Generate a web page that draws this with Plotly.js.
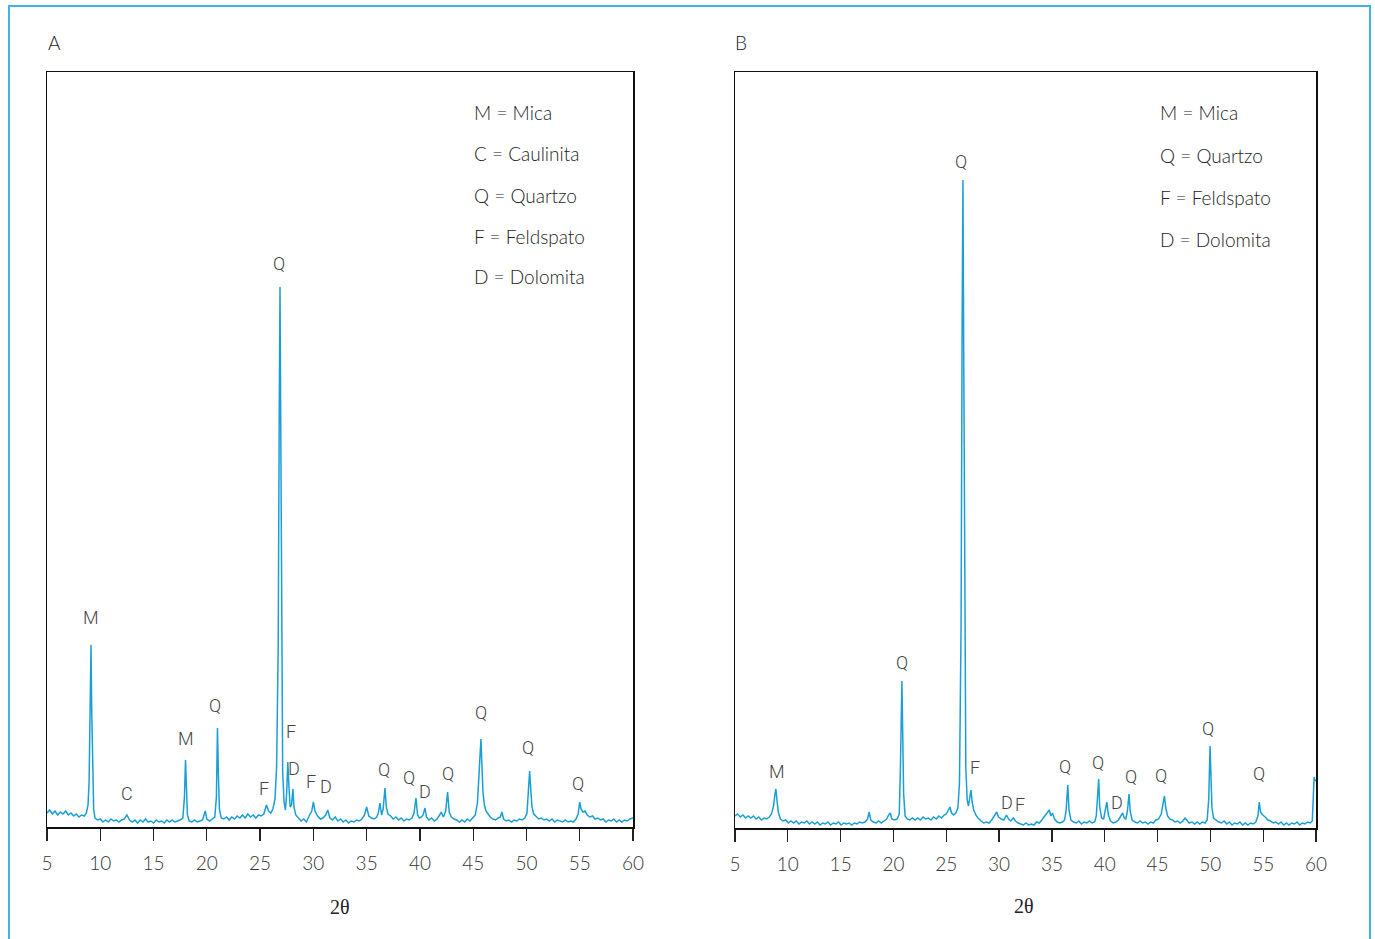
<!DOCTYPE html>
<html>
<head>
<meta charset="utf-8">
<script src="https://cdn.plot.ly/plotly-3.0.1.min.js"></script>
<style>html,body{margin:0;padding:0;background:#fff;}#chart{width:1375px;height:939px;}</style>
</head>
<body>
<div id="chart"></div>
<script>
// ---- Panel A diffractogram: [2theta, intensity (a.u.)] ----
const scanA = [
[5.00,14],[5.25,17],[5.50,13],[5.75,16],[6.00,12],[6.25,15],[6.50,13],[6.75,16],[7.00,12],[7.25,14],
[7.50,11],[7.75,13],[8.00,10],[8.25,12],[8.50,11],[8.70,14],[8.85,22],[8.95,45],[9.05,120],[9.13,182],
[9.20,115],[9.28,45],[9.38,18],[9.50,9],[9.75,7],[10.00,8],[10.25,5],[10.50,7],[10.75,5],[11.00,8],
[11.25,6],[11.50,7],[11.75,5],[12.00,7],[12.25,8],[12.50,12],[12.75,7],[13.00,5],[13.25,7],[13.50,4],
[13.75,7],[14.00,5],[14.25,8],[14.50,5],[14.75,6],[15.00,4],[15.25,7],[15.50,5],[15.75,6],[16.00,4],
[16.25,7],[16.50,5],[16.75,7],[17.00,5],[17.25,6],[17.50,7],[17.75,9],[17.90,30],[18.00,67],[18.08,40],
[18.18,12],[18.35,6],[18.60,5],[18.85,7],[19.10,5],[19.35,6],[19.60,7],[19.85,16],[20.00,8],[20.25,6],
[20.50,8],[20.75,10],[20.90,30],[21.00,99],[21.08,55],[21.18,18],[21.35,9],[21.60,8],[21.85,10],[22.10,7],
[22.35,10],[22.60,8],[22.85,11],[23.10,9],[23.35,12],[23.60,9],[23.85,13],[24.10,10],[24.35,12],[24.60,9],
[24.85,12],[25.10,11],[25.35,13],[25.60,22],[25.80,16],[26.00,14],[26.20,18],[26.40,28],[26.55,60],[26.70,180],
[26.80,420],[26.87,540],[26.94,400],[27.02,160],[27.12,55],[27.25,25],[27.38,17],[27.50,35],[27.60,65],[27.70,42],
[27.82,20],[27.95,22],[28.08,38],[28.18,20],[28.35,12],[28.60,9],[28.85,6],[29.10,8],[29.35,5],[29.60,11],
[29.85,16],[30.00,25],[30.15,16],[30.40,11],[30.65,8],[30.90,9],[31.15,12],[31.35,17],[31.55,9],[31.80,7],
[32.05,10],[32.30,6],[32.55,8],[32.80,5],[33.05,7],[33.30,4],[33.55,6],[33.80,5],[34.05,7],[34.30,6],
[34.55,8],[34.80,12],[35.00,20],[35.20,11],[35.45,9],[35.70,8],[35.95,10],[36.10,14],[36.25,24],[36.40,12],
[36.55,18],[36.72,39],[36.85,20],[37.00,13],[37.25,11],[37.50,8],[37.75,10],[38.00,7],[38.25,9],[38.50,6],
[38.75,8],[39.00,7],[39.25,9],[39.45,14],[39.63,29],[39.78,12],[39.95,9],[40.15,10],[40.30,12],[40.48,19],
[40.62,10],[40.85,7],[41.10,9],[41.35,6],[41.60,8],[41.85,12],[42.00,15],[42.20,10],[42.42,16],[42.60,35],
[42.75,15],[42.95,10],[43.20,8],[43.45,7],[43.70,5],[43.95,7],[44.20,5],[44.45,8],[44.70,6],[44.95,9],
[45.20,12],[45.40,24],[45.55,55],[45.65,78],[45.73,88],[45.82,62],[45.92,35],[46.05,22],[46.20,16],[46.40,13],
[46.60,10],[46.85,8],[47.10,7],[47.35,9],[47.55,10],[47.70,15],[47.85,8],[48.10,6],[48.35,7],[48.60,5],
[48.85,7],[49.10,6],[49.35,8],[49.60,7],[49.85,9],[50.05,14],[50.20,38],[50.30,56],[50.40,38],[50.52,20],
[50.68,13],[50.90,11],[51.15,8],[51.40,9],[51.65,7],[51.90,8],[52.15,6],[52.40,8],[52.65,5],[52.90,7],
[53.15,6],[53.40,5],[53.65,7],[53.90,5],[54.15,6],[54.40,5],[54.65,8],[54.85,13],[55.00,25],[55.12,18],
[55.30,15],[55.50,16],[55.70,12],[55.95,10],[56.20,11],[56.45,8],[56.70,9],[56.95,7],[57.20,8],[57.45,5],
[57.70,7],[57.95,6],[58.20,8],[58.45,5],[58.70,7],[58.95,5],[59.20,7],[59.45,6],[59.70,8],[60.00,9]
];
// ---- Panel B diffractogram ----
const scanB = [
[5.00,12],[5.25,14],[5.50,11],[5.75,13],[6.00,10],[6.25,12],[6.50,10],[6.75,12],[7.00,9],[7.25,11],
[7.50,8],[7.75,10],[8.00,9],[8.25,11],[8.45,14],[8.65,22],[8.78,34],[8.87,39],[8.95,30],[9.10,16],
[9.30,9],[9.55,7],[9.80,8],[10.05,5],[10.30,7],[10.55,5],[10.80,7],[11.05,4],[11.30,6],[11.55,5],
[11.80,7],[12.05,4],[12.30,6],[12.55,4],[12.80,6],[13.05,3],[13.30,5],[13.55,4],[13.80,6],[14.05,3],
[14.30,5],[14.55,4],[14.80,6],[15.05,3],[15.30,5],[15.55,4],[15.80,5],[16.05,3],[16.30,5],[16.55,4],
[16.80,6],[17.05,5],[17.30,6],[17.55,9],[17.70,16],[17.85,8],[18.10,6],[18.35,5],[18.60,7],[18.85,5],
[19.10,7],[19.35,9],[19.55,13],[19.70,15],[19.85,9],[20.10,8],[20.35,9],[20.55,14],[20.66,60],[20.74,120],
[20.80,147],[20.87,100],[20.96,35],[21.10,12],[21.30,9],[21.55,8],[21.80,10],[22.05,8],[22.30,10],[22.55,8],
[22.80,11],[23.05,9],[23.30,10],[23.55,8],[23.80,11],[24.05,9],[24.30,12],[24.55,10],[24.80,13],[25.00,14],
[25.20,18],[25.35,21],[25.50,15],[25.70,13],[25.90,15],[26.10,20],[26.25,45],[26.40,200],[26.50,500],[26.58,648],
[26.65,480],[26.75,180],[26.85,60],[26.98,28],[27.10,22],[27.25,32],[27.34,38],[27.45,26],[27.60,18],[27.80,13],
[28.00,10],[28.30,7],[28.55,5],[28.80,6],[29.05,5],[29.30,8],[29.55,12],[29.77,16],[29.95,11],[30.20,9],
[30.45,8],[30.70,13],[30.90,9],[31.10,7],[31.35,10],[31.55,7],[31.80,5],[32.05,4],[32.30,3],[32.55,5],
[32.80,3],[33.05,4],[33.30,3],[33.55,6],[33.80,5],[34.05,8],[34.30,12],[34.50,14],[34.75,18],[34.90,12],
[35.05,15],[35.25,9],[35.50,6],[35.75,5],[36.00,6],[36.20,8],[36.35,18],[36.50,43],[36.62,18],[36.80,8],
[37.05,6],[37.30,5],[37.55,7],[37.80,4],[38.05,6],[38.30,5],[38.55,7],[38.80,5],[39.05,6],[39.20,12],
[39.33,35],[39.43,49],[39.52,22],[39.70,10],[39.90,9],[40.05,16],[40.20,26],[40.35,13],[40.55,7],[40.80,5],
[41.05,6],[41.30,8],[41.50,12],[41.70,15],[41.85,10],[42.00,9],[42.15,17],[42.30,34],[42.42,16],[42.60,8],
[42.85,6],[43.10,5],[43.35,7],[43.60,5],[43.85,6],[44.10,4],[44.35,6],[44.60,5],[44.85,8],[45.10,9],
[45.35,14],[45.45,20],[45.55,28],[45.65,32],[45.78,20],[45.95,12],[46.15,9],[46.40,8],[46.65,6],[46.90,7],
[47.15,5],[47.40,7],[47.60,10],[47.75,8],[48.00,5],[48.25,6],[48.50,4],[48.75,6],[49.00,4],[49.25,6],
[49.50,5],[49.70,8],[49.85,30],[49.97,82],[50.05,45],[50.15,20],[50.30,10],[50.55,8],[50.80,6],[51.05,5],
[51.30,7],[51.55,4],[51.80,6],[52.05,3],[52.30,5],[52.55,4],[52.80,6],[53.05,3],[53.30,5],[53.55,3],
[53.80,5],[54.05,4],[54.30,6],[54.50,12],[54.63,26],[54.75,16],[54.95,13],[55.20,11],[55.45,8],[55.70,7],
[55.95,5],[56.20,6],[56.45,4],[56.70,6],[56.95,3],[57.20,5],[57.45,3],[57.70,5],[57.95,4],[58.20,6],
[58.45,3],[58.70,5],[58.95,4],[59.20,6],[59.45,5],[59.65,7],[59.75,30],[59.82,51],[59.90,48],[60.00,47]
];

// ---- Peak labels ----
const peakTextA = ['M','C','M','Q','F','Q','F','D','F','D','Q','Q','D','Q','Q','Q','Q'];
const peakXA    = [9.13,12.51,18.05,20.80,25.37,26.77,27.90,28.18,29.80,31.22,36.63,38.98,40.52,42.68,45.73,50.15,54.85];
const peakYA    = [210,34,89,122,39,564,96,59,46,41,58,50,36,54,115,80,44];

const peakTextB = ['M','Q','Q','F','D','F','Q','Q','D','Q','Q','Q','Q'];
const peakXB    = [8.98,20.77,26.39,27.70,30.73,32.02,36.24,39.33,41.16,42.45,45.29,49.80,54.58];
const peakYB    = [57,166,667,61,26,24,62,66,26,52,53,100,55];

const keyA = ['M = Mica','C = Caulinita','Q = Quartzo','F = Feldspato','D = Dolomita'];
const keyB = ['M = Mica','Q = Quartzo','F = Feldspato','D = Dolomita'];
const xTicks = [5,10,15,20,25,30,35,40,45,50,55,60];

const W = 1375, H = 939;
const px = v => v / W;
const py = v => (H - v) / H;

const lineColor = '#1a9fd5';
const traces = [
  {x: scanA.map(p => p[0]), y: scanA.map(p => p[1]), xaxis: 'x', yaxis: 'y', type: 'scatter', mode: 'lines',
   line: {color: lineColor, width: 1.5}, hoverinfo: 'skip'},
  {x: scanB.map(p => p[0]), y: scanB.map(p => p[1]), xaxis: 'x2', yaxis: 'y2', type: 'scatter', mode: 'lines',
   line: {color: lineColor, width: 1.5}, hoverinfo: 'skip'}
];

const peakFont = {family: 'Roboto, "Open Sans", sans-serif', size: 18, color: '#444', weight: 300};
const thinFont = {family: 'Lato, "Open Sans", Roboto, sans-serif', size: 19, color: '#222', weight: 300};

const ann = [];
peakTextA.forEach((t, i) => ann.push({text: t, x: peakXA[i], y: peakYA[i], xref: 'x', yref: 'y', showarrow: false, xanchor: 'center', yanchor: 'middle', font: peakFont}));
peakTextB.forEach((t, i) => ann.push({text: t, x: peakXB[i], y: peakYB[i], xref: 'x2', yref: 'y2', showarrow: false, xanchor: 'center', yanchor: 'middle', font: peakFont}));
const keyYA = [113,154,195,236,276];
keyA.forEach((t, i) => ann.push({text: t, x: px(472), y: py(keyYA[i]), xref: 'paper', yref: 'paper', showarrow: false, xanchor: 'left', yanchor: 'middle', font: thinFont}));
const keyYB = [113,155,197,239];
keyB.forEach((t, i) => ann.push({text: t, x: px(1158), y: py(keyYB[i]), xref: 'paper', yref: 'paper', showarrow: false, xanchor: 'left', yanchor: 'middle', font: thinFont}));
ann.push({text: 'A', x: px(54), y: py(43), xref: 'paper', yref: 'paper', showarrow: false, xanchor: 'center', yanchor: 'middle', font: thinFont});
ann.push({text: 'B', x: px(741), y: py(43), xref: 'paper', yref: 'paper', showarrow: false, xanchor: 'center', yanchor: 'middle', font: thinFont});
const serif = {family: '"Liberation Serif", "DejaVu Serif", serif', size: 20, color: '#222'};
ann.push({text: '2θ', x: px(340), y: py(907), xref: 'paper', yref: 'paper', showarrow: false, xanchor: 'center', yanchor: 'middle', font: serif});
ann.push({text: '2θ', x: px(1024), y: py(906), xref: 'paper', yref: 'paper', showarrow: false, xanchor: 'center', yanchor: 'middle', font: serif});

const xBase = {
  range: [5, 60], tickvals: xTicks, ticktext: xTicks.map(String), ticks: 'outside', ticklen: 12, tickwidth: 1.3, tickcolor: '#222',
  showline: true, mirror: true, linecolor: '#111', linewidth: 1.5, showgrid: false, zeroline: false,
  tickfont: {family: 'Lato, "Open Sans", Roboto, sans-serif', size: 19, color: '#333', weight: 300},
  ticklabelstandoff: 7, fixedrange: true
};
const yBase = {showline: true, mirror: true, linecolor: '#111', linewidth: 1.5, showgrid: false, zeroline: false,
  ticks: '', showticklabels: false, fixedrange: true};

const layout = {
  width: W, height: H, margin: {l: 0, r: 0, t: 0, b: 0},
  paper_bgcolor: '#fff', plot_bgcolor: '#fff', showlegend: false,
  xaxis: Object.assign({}, xBase, {domain: [px(47), px(633)], anchor: 'y'}),
  yaxis: Object.assign({}, yBase, {domain: [py(827), py(72)], range: [0, 755], anchor: 'x'}),
  xaxis2: Object.assign({}, xBase, {domain: [px(735), px(1316)], anchor: 'y2'}),
  yaxis2: Object.assign({}, yBase, {domain: [py(828), py(72)], range: [0, 756], anchor: 'x2'}),
  annotations: ann,
  shapes: [{type: 'rect', xref: 'paper', yref: 'paper', x0: px(9), x1: px(1370), y0: py(948), y1: py(6),
            line: {color: '#41b4e3', width: 2}, fillcolor: 'rgba(0,0,0,0)', layer: 'below'}]
};

Plotly.newPlot('chart', traces, layout, {staticPlot: true, displayModeBar: false});
</script>
</body>
</html>
